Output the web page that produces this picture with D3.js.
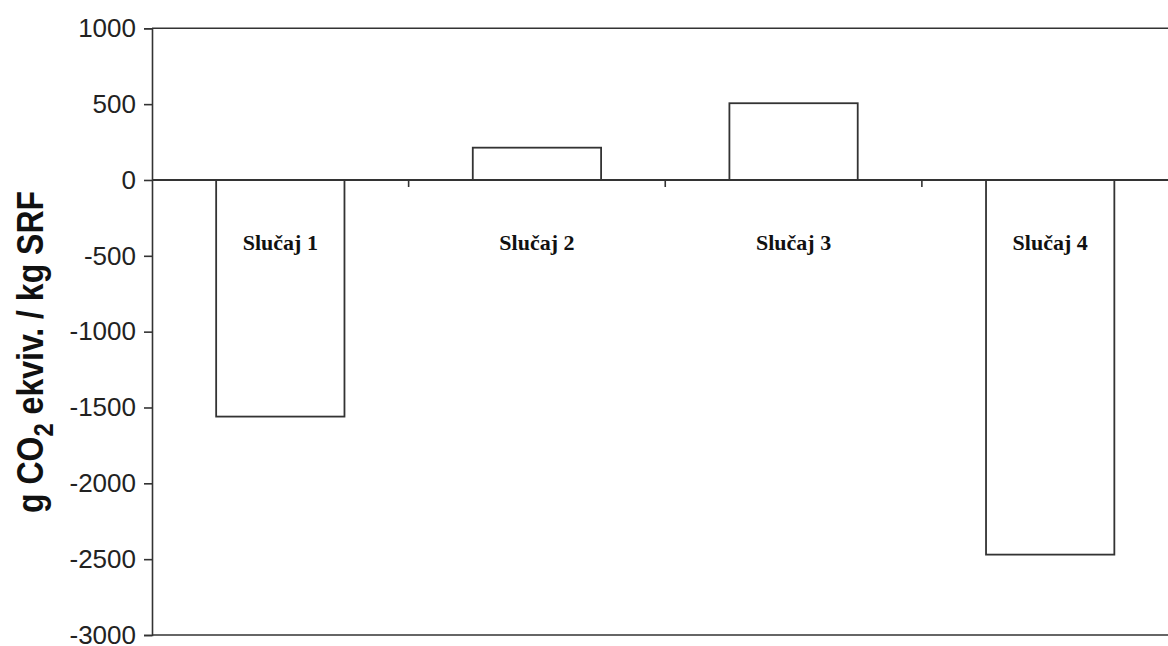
<!DOCTYPE html>
<html>
<head>
<meta charset="utf-8">
<script src="https://cdn.jsdelivr.net/npm/d3@7"></script>
<style>
  body { margin: 0; background: #fff; }
  svg { display: block; }
</style>
</head>
<body>
<svg id="chart"></svg>
<script>
// data
var categories = ['Slučaj 1', 'Slučaj 2', 'Slučaj 3', 'Slučaj 4'];
var values = [-1560, 213, 506, -2470];
var yTicks = [1000, 500, 0, -500, -1000, -1500, -2000, -2500, -3000];

var width = 1168, height = 646;
var plotLeft = 152, plotRight = 1178.5, plotTop = 28.3, plotBottom = 635;
var ink = '#333';

var svg = d3.select('#chart').attr('width', width).attr('height', height);

var x = d3.scaleBand().domain(categories).range([plotLeft, plotRight])
    .paddingInner(0.5).paddingOuter(0.25);
var y = d3.scaleLinear().domain([-3000, 1000]).range([plotBottom, plotTop]);

// y axis with outward ticks, plain hyphen for negatives
var yAxis = svg.append('g')
    .attr('transform', 'translate(' + plotLeft + ',0)')
    .call(d3.axisLeft(y).tickValues(yTicks).tickSize(8).tickPadding(8)
        .tickFormat(function(d){ return String(d); }));
yAxis.select('.domain').attr('stroke', ink).attr('stroke-width', 1.6);
yAxis.selectAll('.tick line').attr('stroke', ink).attr('stroke-width', 1.6);
yAxis.selectAll('.tick text')
    .attr('fill', '#222')
    .style('font-family', 'Liberation Sans, Arial, sans-serif')
    .style('font-size', '26px');

// frame top and bottom
[1000, -3000].forEach(function(v){
    svg.append('line')
        .attr('x1', plotLeft).attr('x2', plotRight)
        .attr('y1', y(v)).attr('y2', y(v))
        .attr('stroke', ink).attr('stroke-width', 1.6);
});

// bars
svg.selectAll('rect.bar').data(values).enter().append('rect')
    .attr('class', 'bar')
    .attr('x', function(d, i){ return x(categories[i]); })
    .attr('width', x.bandwidth())
    .attr('y', function(d){ return y(Math.max(0, d)); })
    .attr('height', function(d){ return Math.abs(y(d) - y(0)); })
    .attr('fill', '#fff')
    .attr('stroke', ink)
    .attr('stroke-width', 1.8);

// zero line with category boundary ticks
var xAxis = svg.append('g')
    .attr('transform', 'translate(0,' + y(0) + ')');
xAxis.append('line')
    .attr('x1', plotLeft).attr('x2', plotRight)
    .attr('stroke', ink).attr('stroke-width', 1.8);
var step = x.step();
var bounds = d3.range(1, categories.length).map(function(i){ return x(categories[i]) - x.paddingInner() * step / 2; });
xAxis.selectAll('line.tk').data(bounds).enter().append('line')
    .attr('class', 'tk')
    .attr('x1', function(d){ return d; }).attr('x2', function(d){ return d; })
    .attr('y1', 0).attr('y2', 7)
    .attr('stroke', ink).attr('stroke-width', 1.6);

// category labels inside the plot
svg.selectAll('text.cat').data(categories).enter().append('text')
    .attr('class', 'cat')
    .attr('x', function(d){ return x(d) + x.bandwidth() / 2; })
    .attr('y', 250)
    .attr('text-anchor', 'middle')
    .attr('fill', '#111')
    .style('font-family', 'Liberation Serif, Times New Roman, serif')
    .style('font-weight', 'bold')
    .style('font-size', '22px')
    .text(function(d){ return d; });

// y title (source glyphs look a bit stretched across)
var title = svg.append('text')
    .attr('transform', 'translate(43,352) scale(1.15,1) rotate(-90)')
    .attr('text-anchor', 'middle')
    .attr('fill', '#111')
    .style('font-family', 'Liberation Sans, Arial, sans-serif')
    .style('font-weight', 'bold')
    .style('font-size', '32px');
title.append('tspan').text('g CO');
title.append('tspan').attr('dy', 9).style('font-size', '24px').text('2');
title.append('tspan').attr('dy', -9).text(' ekviv. / kg SRF');
</script>
</body>
</html>
